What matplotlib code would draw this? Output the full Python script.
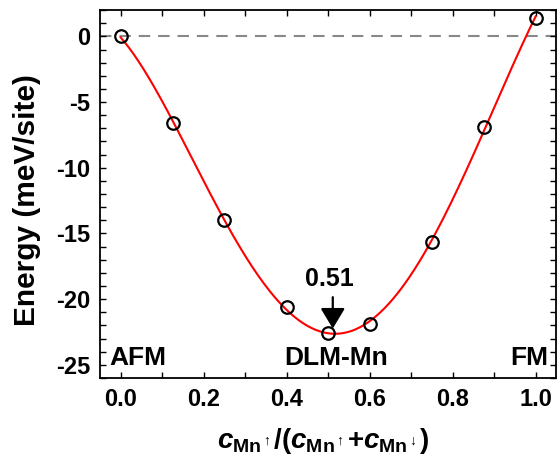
import numpy as np
import matplotlib.pyplot as plt
from matplotlib.ticker import MultipleLocator

plt.rcParams["font.family"] = ["Liberation Sans", "DejaVu Sans"]
plt.rcParams["font.weight"] = "bold"
plt.rcParams["mathtext.fontset"] = "custom"
plt.rcParams["mathtext.rm"] = "Liberation Sans:bold"
plt.rcParams["mathtext.it"] = "Liberation Sans:italic:bold"
plt.rcParams["mathtext.bf"] = "Liberation Sans:bold"

# DFT energies vs. Mn spin-up concentration
conc = [0.0, 0.125, 0.25, 0.4, 0.5, 0.6, 0.75, 0.875, 1.0]
energy = [0.0, -6.63, -13.96, -20.56, -22.57, -21.9, -15.66, -6.9, 1.42]

# smooth fit through the points
coef = np.polyfit(conc, energy, 4)
xfit = np.linspace(0, 1, 300)
yfit = np.polyval(coef, xfit)

fig = plt.figure(figsize=(5.57, 4.59), dpi=100)
ax = fig.add_axes([0.1795, 0.1765, 0.8195, 0.8015])

ax.axhline(0, color="#888888", ls=(0, (5.5, 3.8)), lw=1.5, zorder=1)
ax.plot(xfit, yfit, color="red", lw=1.5, zorder=2)
ax.plot(conc, energy, "o", mfc="none", mec="black", mew=1.6, ms=9, zorder=3)

ax.set_xlim(-0.05, 1.05)
ax.set_ylim(-26, 2)
ax.xaxis.set_major_locator(MultipleLocator(0.2))
ax.xaxis.set_minor_locator(MultipleLocator(0.1))
ax.yaxis.set_major_locator(MultipleLocator(5))
ax.yaxis.set_minor_locator(MultipleLocator(1))
ax.tick_params(which="both", direction="in", top=True, right=True,
               length=4, width=1.0, labelsize=17)
ax.tick_params(axis="x", pad=7)
ax.tick_params(axis="y", pad=7)
ax.xaxis.set_major_formatter(plt.FuncFormatter(lambda v, p: f"{v:.1f}"))
ax.yaxis.set_major_formatter(plt.FuncFormatter(lambda v, p: f"{v:.0f}".replace("\u2212", "-")))
for s in ax.spines.values():
    s.set_linewidth(1.3)

ax.set_ylabel("Energy (meV/site)", fontsize=21.5, fontweight="bold")
ax.yaxis.set_label_coords(-0.129, 0.484)
ax.set_xlabel(r"$c_{\mathrm{Mn}^{\uparrow}}/(c_{\mathrm{Mn}^{\uparrow}}{+}c_{\mathrm{Mn}^{\downarrow}})$",
              fontsize=20)
ax.xaxis.set_label_coords(0.49, -0.13)

ax.text(-0.027, -24.5, "AFM", fontsize=19, ha="left", va="center")
ax.text(0.518, -24.5, "DLM-Mn", fontsize=19, ha="center", va="center")
ax.text(1.03, -24.5, "FM", fontsize=19, ha="right", va="center")
ax.text(0.503, -18.5, "0.51", fontsize=18, ha="center", va="center")
ax.annotate("", xy=(0.511, -22.24), xytext=(0.511, -19.85),
            arrowprops=dict(arrowstyle="-|>,head_width=0.3,head_length=0.5",
                            color="black", lw=1.6, shrinkA=0, shrinkB=0,
                            mutation_scale=25))

fig.savefig("out.png", dpi=100)
